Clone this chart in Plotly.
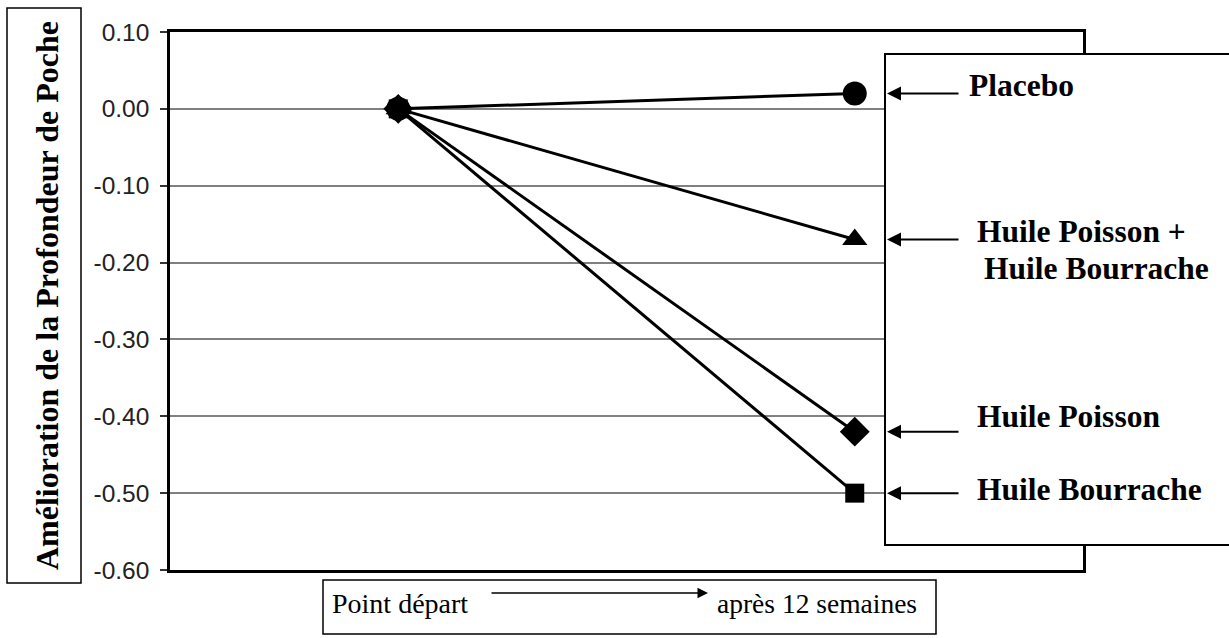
import plotly.graph_objects as go

# ---- data ----
stages = ["Point départ", "après 12 semaines"]
series_names = ["Placebo", "Huile Poisson + Huile Bourrache", "Huile Poisson", "Huile Bourrache"]
start_values = [0.0, 0.0, 0.0, 0.0]
end_values = [0.02, -0.17, -0.42, -0.50]
symbols = ["circle", "triangle-up", "diamond", "square"]
marker_sizes = [24, 22, 23, 19]
y_tick_values = [0.10, 0.00, -0.10, -0.20, -0.30, -0.40, -0.50, -0.60]
y_tick_labels = ["0.10", "0.00", "-0.10", "-0.20", "-0.30", "-0.40", "-0.50", "-0.60"]
y_title = "Amélioration de la Profondeur de Poche"

# ---- geometry (pixels) ----
W, H = 1229, 638
L, R, T, B = 170, 1083, 32, 570


def px(x):
    return (x - L) / (R - L)


def py(y):
    return (B - y) / (B - T)


SERIF = "Liberation Serif, Times New Roman, serif"
SANS = "Liberation Sans, Arial, sans-serif"

fig = go.Figure()
for name, s, e, sym, ms in zip(series_names, start_values, end_values, symbols, marker_sizes):
    fig.add_trace(go.Scatter(
        x=stages, y=[s, e], mode="lines+markers", name=name,
        line=dict(color="black", width=3),
        marker=dict(symbol=sym, size=ms, color="black"),
        showlegend=False, cliponaxis=False,
    ))

shapes = []
# y-title box
shapes.append(dict(type="rect", xref="paper", yref="paper",
                   x0=px(7), x1=px(81), y0=py(583), y1=py(8),
                   line=dict(color="black", width=1.5), fillcolor="white", layer="below"))
# legend box
shapes.append(dict(type="rect", xref="paper", yref="paper",
                   x0=px(885), x1=px(1240), y0=py(545), y1=py(54),
                   line=dict(color="black", width=2), fillcolor="white", layer="above"))
# x-label box
shapes.append(dict(type="rect", xref="paper", yref="paper",
                   x0=px(323), x1=px(936), y0=py(634), y1=py(580),
                   line=dict(color="black", width=1.5), fillcolor="white", layer="above"))

annotations = []
annotations.append(dict(xref="paper", yref="paper", x=px(47), y=py(296),
                        text="<b>" + y_title + "</b>", textangle=-90, showarrow=False,
                        font=dict(family=SERIF, size=32, color="black"),
                        xanchor="center", yanchor="middle"))

# series labels in the box
label_lines = [
    ("Placebo", 967, 85),
    ("Huile Poisson +", 975, 231),
    ("Huile Bourrache", 982, 268),
    ("Huile Poisson", 975, 416),
    ("Huile Bourrache", 975, 489),
]
for txt, x, y in label_lines:
    annotations.append(dict(xref="paper", yref="paper", x=px(x), y=py(y),
                            text="<b>" + txt + "</b>", showarrow=False,
                            xanchor="left", yanchor="middle",
                            font=dict(family=SERIF, size=31.5, color="black")))

# arrows pointing at each series end value
for v in end_values:
    annotations.append(dict(xref="paper", yref="y", x=px(887), y=v, text="",
                            showarrow=True, axref="pixel", ayref="pixel", ax=73, ay=0,
                            arrowhead=2, arrowsize=1.4, arrowwidth=2, arrowcolor="black"))

# x label box content
annotations.append(dict(xref="paper", yref="paper", x=px(330), y=py(603),
                        text=stages[0], showarrow=False, xanchor="left", yanchor="middle",
                        font=dict(family=SERIF, size=28, color="black")))
annotations.append(dict(xref="paper", yref="paper", x=px(715), y=py(603),
                        text=stages[1], showarrow=False, xanchor="left", yanchor="middle",
                        font=dict(family=SERIF, size=27.5, color="black")))
annotations.append(dict(xref="paper", yref="paper", x=px(708), y=py(593), text="",
                        showarrow=True, axref="pixel", ayref="pixel", ax=-218, ay=0,
                        arrowhead=2, arrowsize=1.4, arrowwidth=1.5, arrowcolor="black"))

fig.update_layout(
    width=W, height=H,
    margin=dict(l=L, r=W - R, t=T, b=H - B, pad=0),
    paper_bgcolor="white", plot_bgcolor="white",
    shapes=shapes, annotations=annotations,
    xaxis=dict(type="category", range=[-0.5, 1.5], showticklabels=False, ticks="",
               showgrid=False, zeroline=False, showline=True, mirror=True,
               linecolor="black", linewidth=2.5),
    yaxis=dict(range=[-0.60, 0.10], tickvals=y_tick_values, ticktext=y_tick_labels,
               ticks="outside", ticklen=7, tickwidth=1.5, tickcolor="#333",
               ticklabelstandoff=6,
               tickfont=dict(family=SANS, size=24.5, color="#222"),
               showgrid=True, gridcolor="#808080", gridwidth=1.5, zeroline=False,
               showline=True, mirror=True, linecolor="black", linewidth=2.5),
)

fig.write_html(
    "out.html",
    config={"displayModeBar": False},
    post_script="document.body.style.margin='0';document.body.style.overflow='hidden';",
)
